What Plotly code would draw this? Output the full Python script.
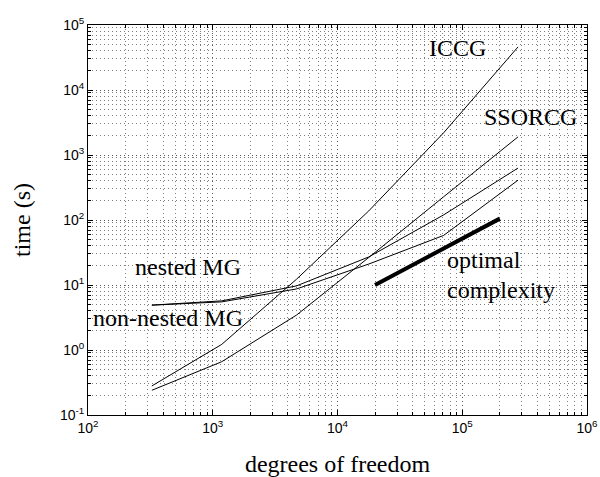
import plotly.graph_objects as go

dof = [325, 1180, 4700, 17800, 71000, 280000]
iccg = [0.28, 1.22, 12.3, 138, 2200, 46000]
ssorcg = [0.24, 0.66, 3.45, 26.5, 228, 1900]
nested_mg = [4.9, 5.7, 9.7, 27, 120, 630]
nonnested_mg = [4.9, 5.5, 8.7, 21, 58, 410]
optimal_x = [2e4, 2e5]
optimal_y = [10, 105]

x_exponents = [2, 3, 4, 5, 6]
y_exponents = [-1, 0, 1, 2, 3, 4, 5]
x_tickvals = [10.0 ** e for e in x_exponents]
y_tickvals = [10.0 ** e for e in y_exponents]
x_ticktext = ["10<sup>%d</sup>" % e for e in x_exponents]
y_ticktext = ["10<sup>%d</sup>" % e for e in y_exponents]

fig = go.Figure()
for name, ys in [("ICCG", iccg), ("SSORCG", ssorcg), ("nested MG", nested_mg), ("non-nested MG", nonnested_mg)]:
    fig.add_trace(go.Scatter(x=dof, y=ys, mode="lines", name=name,
                             line=dict(color="black", width=1)))
fig.add_trace(go.Scatter(x=optimal_x, y=optimal_y, mode="lines", name="optimal complexity",
                         line=dict(color="black", width=4)))

serif = dict(family="Liberation Serif", size=24, color="black")
labels = [
    ("ICCG", 4.962, 4.646, "center"),
    ("SSORCG", 5.547, 3.585, "center"),
    ("nested MG", 2.798, 1.277, "center"),
    ("non-nested MG", 2.641, 0.492, "center"),
    ("optimal", 4.862, 1.385, "left"),
    ("complexity", 4.862, 0.923, "left"),
]
for t, x, y, al in labels:
    fig.add_annotation(x=x, y=y, xref="x", yref="y", text=t, showarrow=False,
                       xanchor=al, yanchor="middle", font=serif)

grid = "rgba(70,70,70,0.7)"
axis_common = dict(
    type="log", automargin=False,
    showline=True, linecolor="black", linewidth=1, mirror="ticks",
    ticks="inside", ticklen=5, tickcolor="black",
    showgrid=True, gridcolor=grid, griddash="1px,3px", gridwidth=1,
    zeroline=False,
    tickfont=dict(family="Liberation Sans", size=14, color="black"),
    minor=dict(dtick="D1", ticks="inside", ticklen=3, tickcolor="black",
               showgrid=True, gridcolor=grid, griddash="1px,3px", gridwidth=1),
)
fig.update_xaxes(range=[2, 6], tickvals=x_tickvals, ticktext=x_ticktext,
                 title=dict(text="degrees of freedom", font=serif, standoff=20), **axis_common)
fig.update_yaxes(range=[-1, 5], tickvals=y_tickvals, ticktext=y_ticktext,
                 title=dict(text="time (s)", font=serif, standoff=22), **axis_common)

fig.update_layout(
    width=600, height=477,
    margin=dict(l=88, r=13, t=25, b=62),
    paper_bgcolor="white", plot_bgcolor="white",
    showlegend=False,
)
fig.write_html("out.html", config={"displayModeBar": False},
               post_script="document.body.style.margin='0px';document.body.style.overflow='hidden';")
